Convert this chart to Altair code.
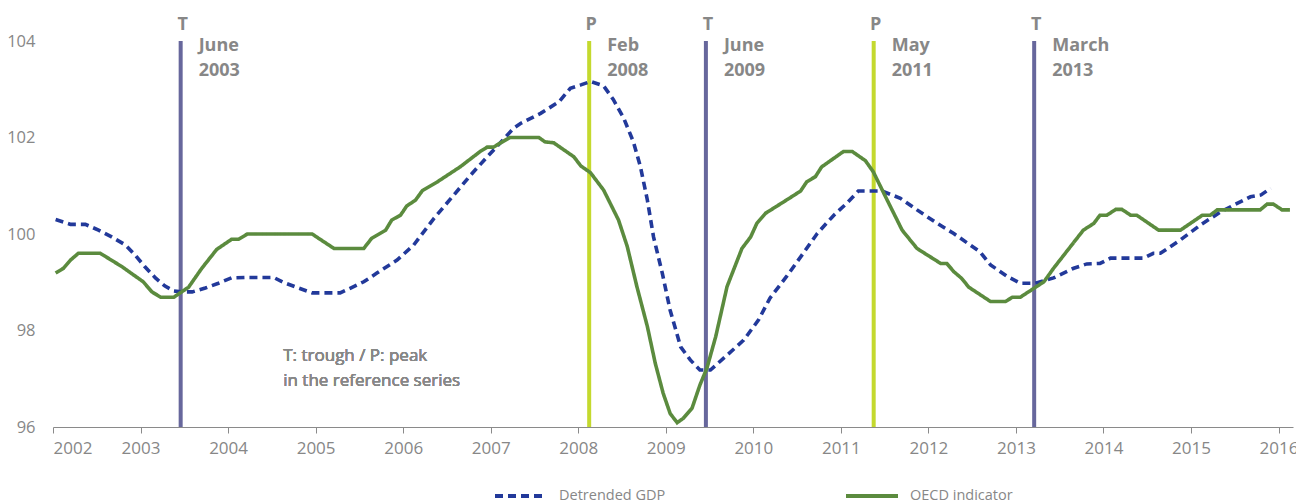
import altair as alt
import pandas as pd

# ---- data ----
gdp_years = [2002.03, 2002.20, 2002.37, 2002.52, 2002.67, 2002.83, 2002.94, 2003.05, 2003.17, 2003.28,
             2003.38, 2003.47, 2003.59, 2003.74, 2003.89, 2004.04, 2004.20, 2004.52, 2004.63, 2004.79,
             2004.96, 2005.28, 2005.40, 2005.55, 2005.70, 2005.93, 2006.12, 2006.35, 2006.58, 2006.77,
             2006.96, 2007.11, 2007.26, 2007.34, 2007.57, 2007.78, 2007.91, 2008.03, 2008.14, 2008.29,
             2008.40, 2008.52, 2008.63, 2008.71, 2008.79, 2008.86, 2008.96, 2009.05, 2009.17, 2009.28,
             2009.39, 2009.51, 2009.70, 2009.89, 2010.06, 2010.19, 2010.38, 2010.57, 2010.73, 2010.92,
             2011.07, 2011.20, 2011.47, 2011.68, 2011.87, 2012.10, 2012.29, 2012.59, 2012.71, 2012.90,
             2013.05, 2013.22, 2013.43, 2013.66, 2013.81, 2013.96, 2014.08, 2014.46, 2014.57, 2014.65,
             2014.88, 2015.11, 2015.34, 2015.49, 2015.68, 2015.80, 2015.91]
gdp_values = [100.30, 100.20, 100.20, 100.08, 99.94, 99.77, 99.56, 99.32, 99.09, 98.92,
              98.82, 98.80, 98.80, 98.88, 98.98, 99.09, 99.10, 99.10, 99.00, 98.89,
              98.78, 98.78, 98.88, 99.01, 99.19, 99.46, 99.77, 100.32, 100.81, 101.22,
              101.60, 101.89, 102.19, 102.29, 102.50, 102.74, 103.02, 103.09, 103.16, 103.07,
              102.79, 102.40, 101.91, 101.40, 100.70, 99.94, 99.19, 98.42, 97.66, 97.39,
              97.18, 97.18, 97.49, 97.80, 98.22, 98.67, 99.12, 99.60, 100.01, 100.39,
              100.64, 100.89, 100.89, 100.74, 100.50, 100.22, 100.01, 99.63, 99.36, 99.12,
              98.98, 98.98, 99.09, 99.29, 99.38, 99.39, 99.50, 99.50, 99.60, 99.60,
              99.88, 100.19, 100.46, 100.60, 100.77, 100.81, 100.95]

oecd_years = [2002.03, 2002.12, 2002.20, 2002.29, 2002.54, 2002.79, 2003.03, 2003.13, 2003.23, 2003.38,
              2003.55, 2003.70, 2003.87, 2004.04, 2004.12, 2004.22, 2004.96, 2005.21, 2005.55, 2005.64,
              2005.80, 2005.87, 2005.97, 2006.04, 2006.14, 2006.22, 2006.39, 2006.65, 2006.88, 2006.96,
              2007.03, 2007.22, 2007.55, 2007.62, 2007.72, 2007.95, 2008.03, 2008.14, 2008.29, 2008.46,
              2008.56, 2008.67, 2008.79, 2008.88, 2008.97, 2009.05, 2009.13, 2009.20, 2009.30, 2009.39,
              2009.47, 2009.57, 2009.70, 2009.87, 2009.97, 2010.04, 2010.14, 2010.35, 2010.54, 2010.61,
              2010.71, 2010.78, 2011.03, 2011.13, 2011.28, 2011.37, 2011.53, 2011.70, 2011.87, 2012.14,
              2012.21, 2012.29, 2012.38, 2012.46, 2012.71, 2012.88, 2012.96, 2013.05, 2013.32, 2013.43,
              2013.77, 2013.89, 2013.96, 2014.04, 2014.14, 2014.21, 2014.31, 2014.38, 2014.63, 2014.88,
              2015.13, 2015.22, 2015.30, 2015.79, 2015.87, 2015.94, 2016.04, 2016.13]
oecd_values = [99.19, 99.29, 99.46, 99.60, 99.60, 99.32, 99.01, 98.80, 98.69, 98.69,
               98.90, 99.29, 99.68, 99.89, 99.89, 100.00, 100.00, 99.70, 99.70, 99.91,
               100.08, 100.29, 100.39, 100.58, 100.70, 100.90, 101.08, 101.39, 101.71, 101.80,
               101.80, 102.00, 102.00, 101.91, 101.89, 101.60, 101.41, 101.27, 100.91, 100.29,
               99.74, 98.91, 98.08, 97.32, 96.70, 96.28, 96.09, 96.18, 96.39, 96.87,
               97.22, 97.87, 98.91, 99.70, 99.94, 100.22, 100.43, 100.67, 100.89, 101.08,
               101.19, 101.39, 101.71, 101.71, 101.52, 101.29, 100.70, 100.08, 99.70, 99.39,
               99.39, 99.22, 99.08, 98.90, 98.60, 98.60, 98.69, 98.69, 99.01, 99.29,
               100.08, 100.22, 100.39, 100.39, 100.51, 100.51, 100.39, 100.39, 100.08, 100.08,
               100.39, 100.39, 100.50, 100.50, 100.62, 100.62, 100.50, 100.50]

event_year = [2003, 2008, 2009, 2011, 2013]
event_month = [6, 2, 6, 5, 3]
event_kind = ["T", "P", "T", "P", "T"]
event_month_name = ["June", "Feb", "June", "May", "March"]

series_names = ["Detrended GDP", "OECD indicator"]

# ---- tables ----
lines = pd.concat([
    pd.DataFrame({"t": gdp_years, "v": gdp_values, "series": series_names[0]}),
    pd.DataFrame({"t": oecd_years, "v": oecd_values, "series": series_names[1]}),
])
events = pd.DataFrame({
    "t": [y + (m - 0.5) / 12 for y, m in zip(event_year, event_month)],
    "kind": event_kind,
    "mname": event_month_name,
    "yname": [str(y) for y in event_year],
})

GRAY = "#878787"
FONT = "Open Sans"

xscale = alt.Scale(domain=[2002, 2016.165], nice=False, zero=False)
yscale = alt.Scale(domain=[96, 104], nice=False, zero=False)

x_axis = alt.Axis(values=list(range(2002, 2017)), format="d", title=None, grid=False,
                  domainColor="#8a8a8a", tickColor="#8a8a8a", tickSize=6, labelPadding=7,
                  labelColor=GRAY, labelFontSize=17, labelFont=FONT)
y_axis = alt.Axis(values=[96, 98, 100, 102, 104], title=None, grid=False, domain=False,
                  ticks=False, labelPadding=18, labelColor=GRAY, labelFontSize=16.5, labelFont=FONT)

legend = alt.Legend(title=None, orient="none", direction="horizontal",
                    legendX=440, legendY=427, symbolType="stroke",
                    symbolSize=2704, symbolStrokeWidth=4,
                    labelFontSize=14.5, labelColor=GRAY, labelFont=FONT,
                    labelOffset=10, columnPadding=172, labelLimit=300)

rules = alt.Chart(events).mark_rule(strokeWidth=4).encode(
    x=alt.X("t:Q", scale=xscale, axis=x_axis),
    color=alt.Color("kind:N", scale=alt.Scale(domain=["T", "P"], range=["#67679c", "#c4d92e"]),
                    legend=None),
)

line_chart = alt.Chart(lines).mark_line(strokeWidth=3.6).encode(
    x=alt.X("t:Q", scale=xscale, axis=x_axis),
    y=alt.Y("v:Q", scale=yscale, axis=y_axis),
    stroke=alt.Stroke("series:N",
                      scale=alt.Scale(domain=series_names, range=["#22399a", "#5b8b3e"]),
                      legend=legend),
    strokeDash=alt.StrokeDash("series:N",
                              scale=alt.Scale(domain=series_names, range=[[8, 5], [1, 0]]),
                              legend=legend),
)

kind_text = alt.Chart(events).mark_text(font=FONT, fontSize=18, fontWeight="bold", color=GRAY,
                                        align="center", baseline="middle", dx=2).encode(
    x=alt.X("t:Q", scale=xscale), y=alt.value(-16), text="kind:N")
month_text = alt.Chart(events).mark_text(font=FONT, fontSize=18, fontWeight="bold", color=GRAY,
                                         align="left", baseline="middle", dx=18).encode(
    x=alt.X("t:Q", scale=xscale), y=alt.value(5), text="mname:N")
year_text = alt.Chart(events).mark_text(font=FONT, fontSize=18, fontWeight="bold", color=GRAY,
                                        align="left", baseline="middle", dx=18).encode(
    x=alt.X("t:Q", scale=xscale), y=alt.value(30), text="yname:N")

note1 = alt.Chart(events).mark_text(font=FONT, fontSize=17, color=GRAY, align="left",
                                    baseline="middle").encode(
    x=alt.datum(2004.63, scale=xscale), y=alt.datum(97.47, scale=yscale),
    text=alt.value("T: trough / P: peak"))
note2 = alt.Chart(events).mark_text(font=FONT, fontSize=17, color=GRAY, align="left",
                                    baseline="middle").encode(
    x=alt.datum(2004.63, scale=xscale), y=alt.datum(96.95, scale=yscale),
    text=alt.value("in the reference series"))

chart = alt.layer(rules, line_chart, kind_text, month_text, year_text, note1, note2).resolve_scale(
    color="independent"
).properties(
    width=1240, height=386,
    autosize=alt.AutoSizeParams(type="none"),
    padding={"left": 45, "top": 33, "right": 3, "bottom": 76},
).configure_view(stroke=None)

chart.save("out.html", embed_options={"renderer": "svg", "actions": False})
